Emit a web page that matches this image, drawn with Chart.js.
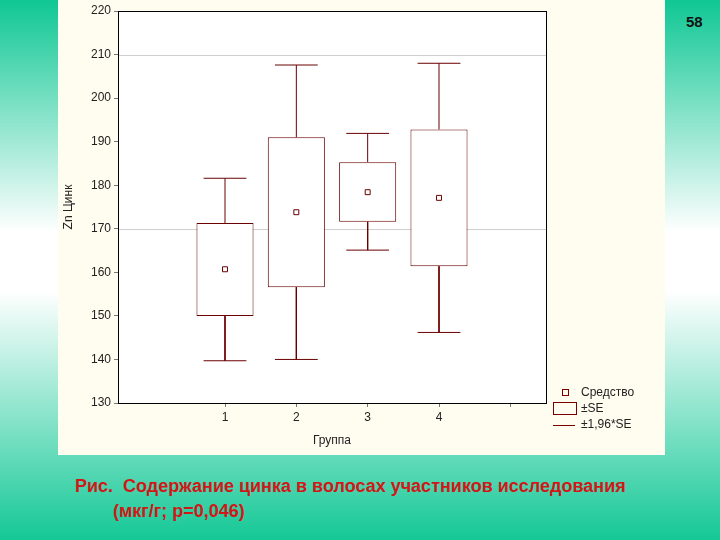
<!DOCTYPE html>
<html>
<head>
<meta charset="utf-8">
<script src="https://cdn.jsdelivr.net/npm/chart.js@4.4.0/dist/chart.umd.min.js"></script>
<style>
  body {
    margin: 0;
    width: 720px;
    height: 540px;
    overflow: hidden;
    position: relative;
    font-family: Arial, "Liberation Sans", sans-serif;
    background: linear-gradient(to bottom, #0fc794 0%, #ffffff 43%, #ffffff 54%, #14c896 100%);
  }
  #panel {
    position: absolute;
    left: 58px; top: 0;
    width: 607px; height: 455px;
    background: #fffcf0;
  }
  #pageNum {
    position: absolute;
    left: 686px; top: 13px;
    font-size: 15px; font-weight: bold; color: #111;
  }
  .caption {
    position: absolute;
    color: #d01818;
    font-size: 18px;
    font-weight: bold;
    white-space: pre;
  }
  #legend {
    position: absolute;
    left: 553px; top: 385px;
    font-size: 12px; color: #222;
  }
  #legend .row { height: 16px; position: relative; }
  #legend .sym { position: absolute; left: 0; width: 22px; }
  #legend .txt { position: absolute; left: 28px; top: 0; }
</style>
</head>
<body>
<div id="panel"><canvas id="chart" width="607" height="455"></canvas></div>
<div id="pageNum">58</div>
<div id="legend">
  <div class="row"><div class="sym" style="top:4px;left:9px;width:5px;height:5px;border:1px solid #7a0000;"></div><span class="txt">Средство</span></div>
  <div class="row"><div class="sym" style="top:1px;height:11px;border:1px solid #7a0000;"></div><span class="txt">±SE</span></div>
  <div class="row"><div class="sym" style="top:8px;height:0;border-top:1px solid #7a0000;"></div><span class="txt">±1,96*SE</span></div>
</div>
<div class="caption" style="left:75px;top:476px;">Рис.  Содержание цинка в волосах участников исследования</div>
<div class="caption" style="left:113px;top:501px;">(мкг/г; р=0,046)</div>

<script>
// Zn values per group
const groups = [1, 2, 3, 4];
const means = [160.7, 173.8, 178.4, 177.1];
const seLow = [150.0, 156.6, 171.6, 161.4];
const seHigh = [171.3, 191.0, 185.3, 192.8];
const ciLow = [139.7, 140.0, 165.1, 146.2];
const ciHigh = [181.6, 207.6, 191.9, 208.0];
const xTicks = [1, 2, 3, 4, 5];
const xTickLabels = ['1', '2', '3', '4', ''];
const yTicks = [130, 140, 150, 160, 170, 180, 190, 200, 210, 220];
const refLines = [170, 210];

const lineColor = '#6a0000';
const capHalf = 0.3;

// whisker stems + caps as one broken line
const whiskers = [];
groups.forEach((g, i) => {
  whiskers.push({x: g, y: seHigh[i]}, {x: g, y: ciHigh[i]}, {x: g, y: null});
  whiskers.push({x: g - capHalf, y: ciHigh[i]}, {x: g + capHalf, y: ciHigh[i]}, {x: g, y: null});
  whiskers.push({x: g, y: seLow[i]}, {x: g, y: ciLow[i]}, {x: g, y: null});
  whiskers.push({x: g - capHalf, y: ciLow[i]}, {x: g + capHalf, y: ciLow[i]}, {x: g, y: null});
});

Chart.defaults.font.family = 'Arial, "Liberation Sans", sans-serif';
Chart.defaults.font.size = 12;
Chart.defaults.color = '#222';

const framePlugin = {
  id: 'frame',
  beforeDatasetsDraw(chart) {
    const {ctx, chartArea: a} = chart;
    ctx.save();
    ctx.fillStyle = '#ffffff';
    ctx.fillRect(a.left, a.top, a.right - a.left, a.bottom - a.top);
    // reference lines
    ctx.strokeStyle = '#cfcfcf';
    ctx.lineWidth = 1;
    refLines.forEach(v => {
      const y = Math.round(chart.scales.y.getPixelForValue(v)) + 0.5;
      ctx.beginPath();
      ctx.moveTo(a.left, y);
      ctx.lineTo(a.right, y);
      ctx.stroke();
    });
    ctx.restore();
  },
  afterDatasetsDraw(chart) {
    const {ctx, chartArea: a} = chart;
    ctx.save();
    ctx.strokeStyle = '#000';
    ctx.lineWidth = 1;
    ctx.strokeRect(Math.round(a.left) + 0.5, Math.round(a.top) + 0.5,
      Math.round(a.right - a.left), Math.round(a.bottom - a.top));
    ctx.restore();
  }
};

new Chart(document.getElementById('chart'), {
  type: 'bar',
  data: {
    datasets: [
      {
        type: 'line',
        label: 'Средство',
        data: groups.map((g, i) => ({x: g, y: means[i]})),
        showLine: false,
        pointStyle: 'rect',
        pointRadius: 3.5,
        pointBackgroundColor: '#ffffff',
        pointBorderColor: lineColor,
        pointBorderWidth: 1,
        order: 1
      },
      {
        type: 'bar',
        label: '±SE',
        data: groups.map((g, i) => ({x: g, y: [seLow[i], seHigh[i]]})),
        backgroundColor: '#ffffff',
        borderColor: lineColor,
        borderWidth: 1,
        borderSkipped: false,
        barPercentage: 0.8,
        categoryPercentage: 1,
        order: 2
      },
      {
        type: 'line',
        label: '±1,96*SE',
        data: whiskers,
        borderColor: lineColor,
        borderWidth: 1,
        pointRadius: 0,
        spanGaps: false,
        tension: 0,
        order: 3
      }
    ]
  },
  options: {
    responsive: false,
    animation: false,
    layout: {padding: {left: 0, right: 119, top: 11, bottom: 0}},
    plugins: {
      legend: {display: false},
      tooltip: {enabled: false}
    },
    scales: {
      x: {
        type: 'linear',
        min: -0.5,
        max: 5.5,
        offset: false,
        afterBuildTicks: s => { s.ticks = xTicks.map(v => ({value: v})); },
        afterFit: s => { s.height = 52; },
        ticks: {
          padding: 3,
          callback: (v) => xTickLabels[xTicks.indexOf(v)]
        },
        grid: {
          offset: false,
          drawOnChartArea: false,
          tickLength: 4,
          tickColor: '#777'
        },
        border: {display: false},
        title: {display: true, text: 'Группа', font: {size: 12}, padding: {top: 0, bottom: 7}}
      },
      y: {
        min: 130,
        max: 220,
        afterBuildTicks: s => { s.ticks = yTicks.map(v => ({value: v})); },
        afterFit: s => { s.width = 60; },
        ticks: {padding: 3},
        grid: {
          drawOnChartArea: false,
          tickLength: 4,
          tickColor: '#777'
        },
        border: {display: false},
        title: {display: true, text: 'Zn Цинк', font: {size: 12}, padding: {top: 3, bottom: 0}}
      }
    }
  },
  plugins: [framePlugin]
});
</script>
</body>
</html>
